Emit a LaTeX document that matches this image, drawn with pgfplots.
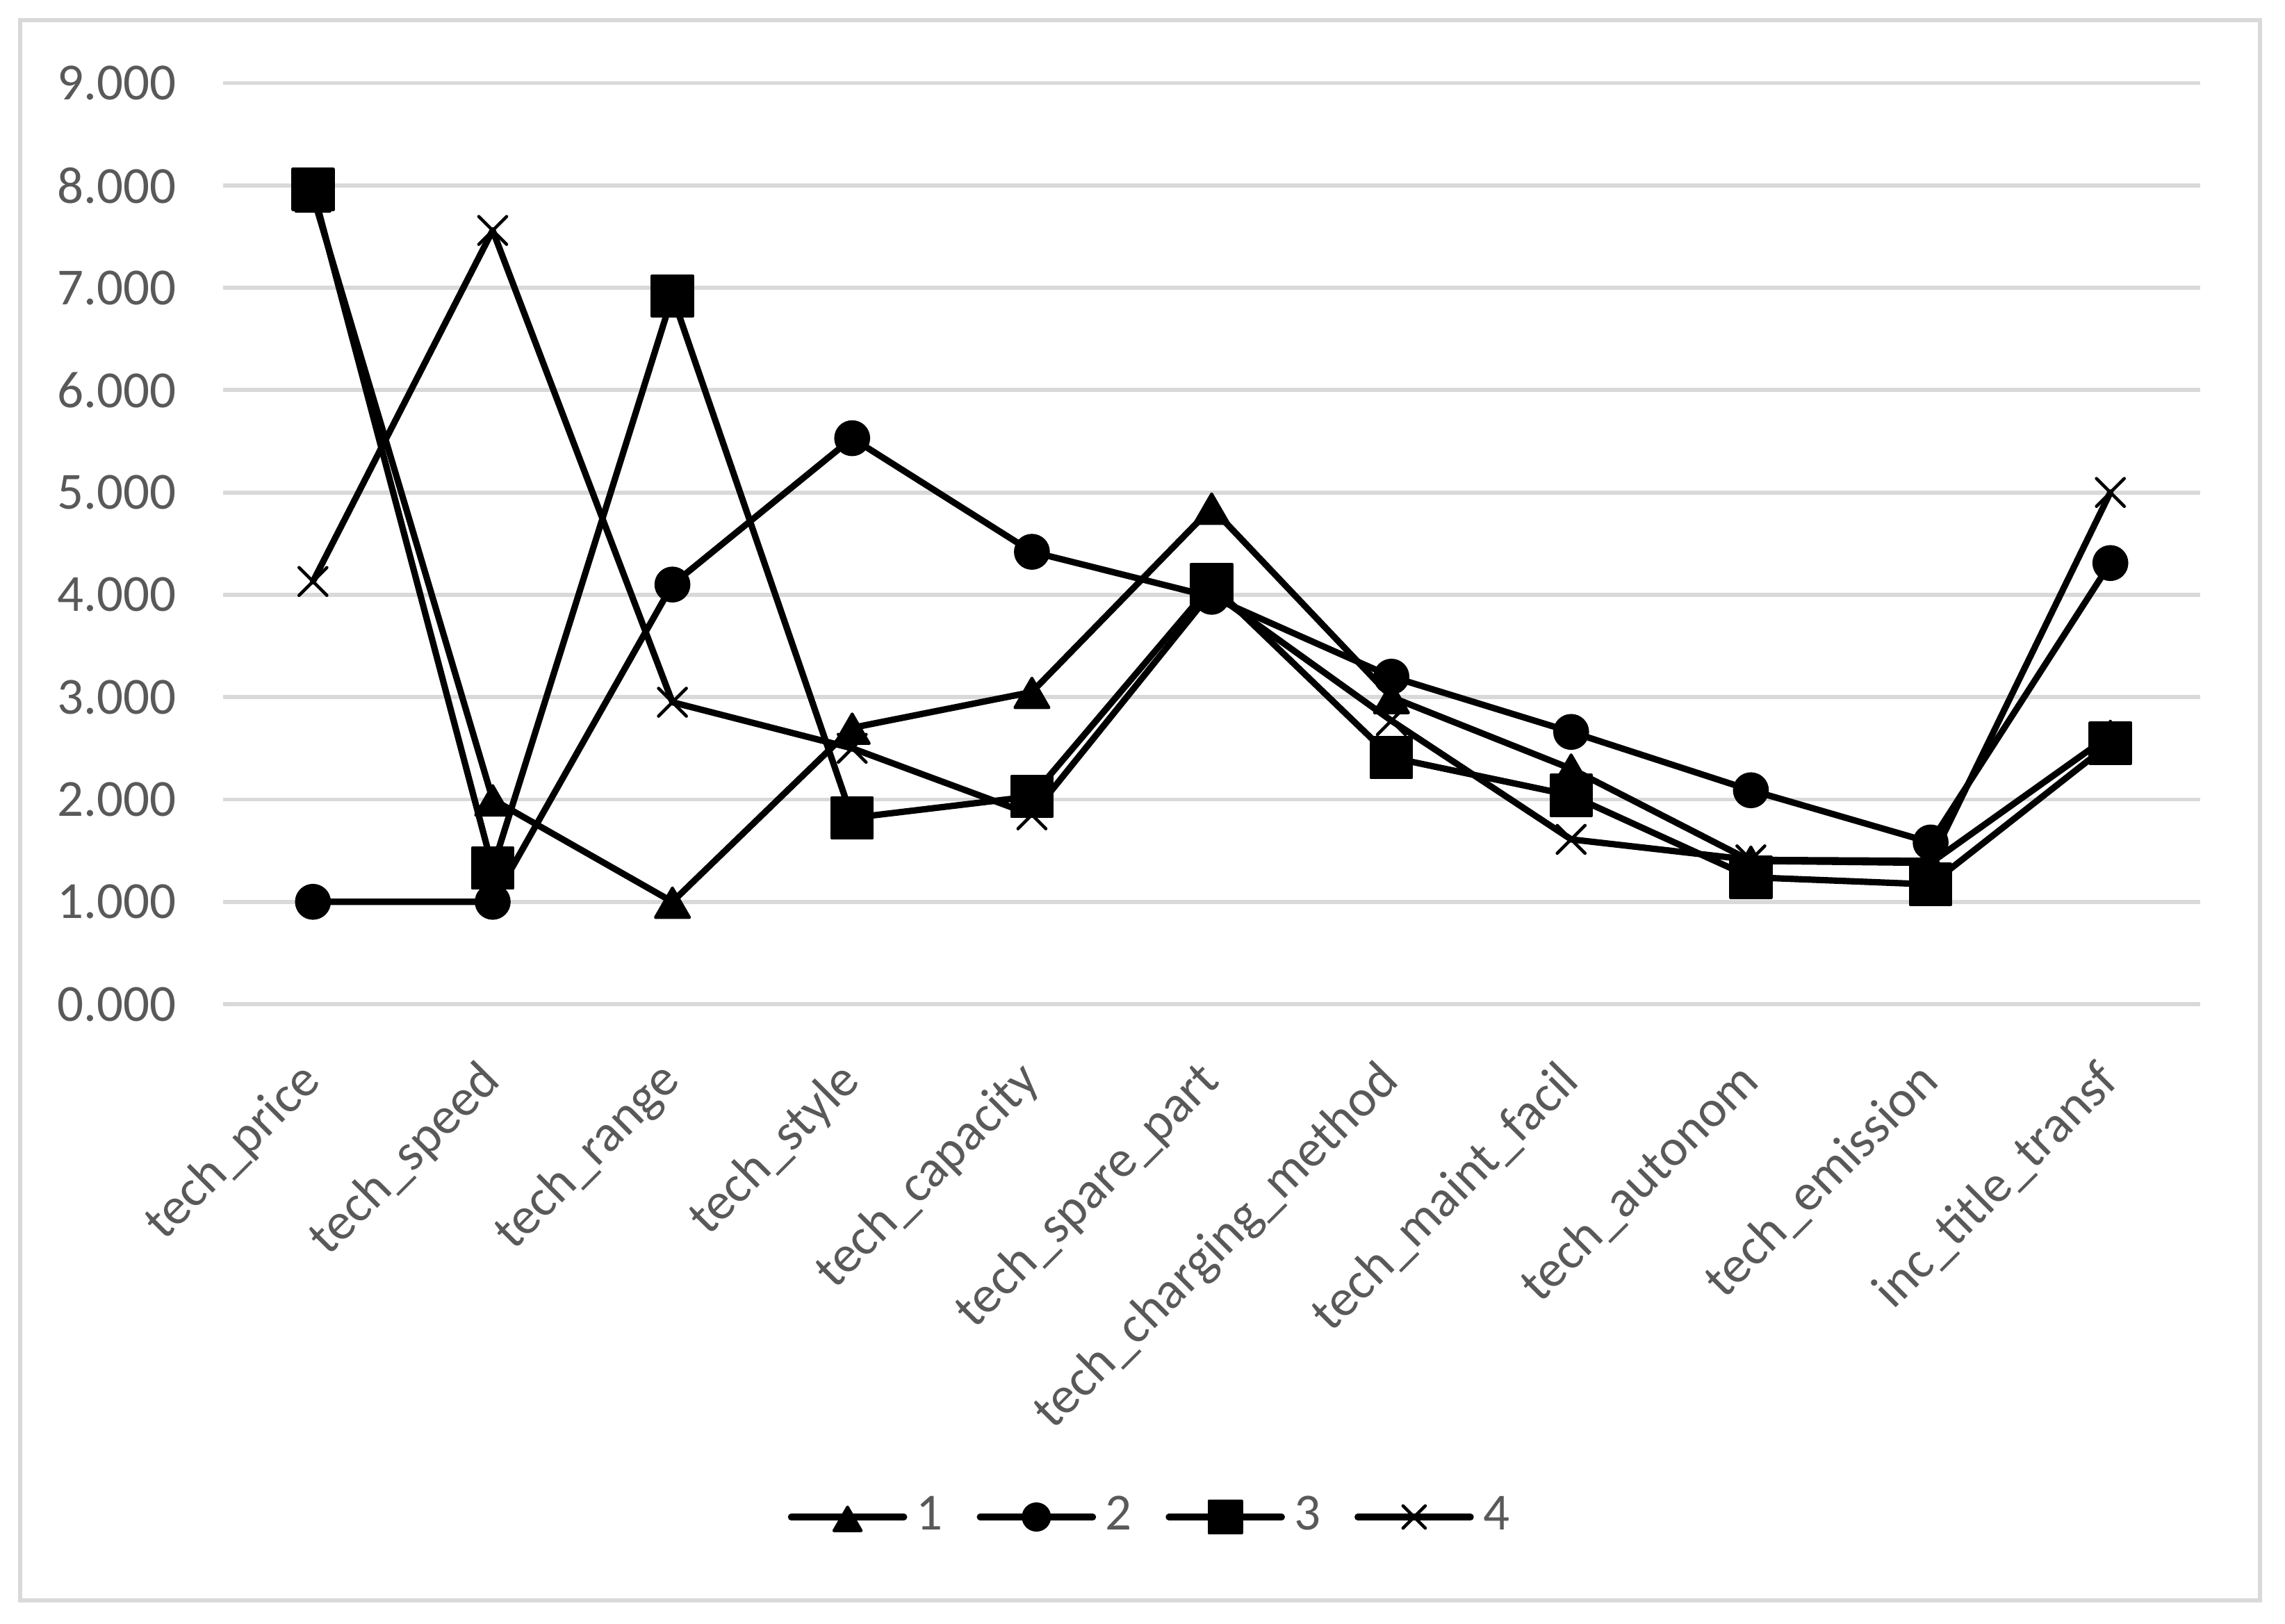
\documentclass[border=0pt]{standalone}
\usepackage{fontspec}
\setmainfont{Carlito}
\usepackage{pgfplots}
\pgfplotsset{compat=1.18}
\definecolor{txt}{RGB}{89,89,89}
\definecolor{gridc}{RGB}{217,217,217}
\begin{document}
\fontsize{18}{21.6}\selectfont
\begin{tikzpicture}
\path[use as bounding box] (0,0) rectangle (789.12pt,560.64pt);
\draw[gridc, line width=1.4pt] (6.96pt,7.9pt) rectangle (780.5pt,553.7pt);
\begin{axis}[
  at={(77.04pt,213.84pt)}, anchor=south west,
  scale only axis, width=682.8pt, height=318.12pt,
  xmin=-0.5, xmax=10.5, ymin=0, ymax=9,
  xtick={0,...,10},
  xticklabels={tech\_price, tech\_speed, tech\_range, tech\_style, tech\_capacity, tech\_spare\_part, tech\_charging\_method, tech\_maint\_facil, tech\_autonom, tech\_emission, inc\_title\_transf},
  ytick={0,...,9},
  yticklabels={0.000,1.000,2.000,3.000,4.000,5.000,6.000,7.000,8.000,9.000},
  ymajorgrids, grid style={gridc, line width=1.4pt},
  axis line style={draw=none},
  major tick length=0pt,
  tick label style={font=\fontsize{18}{21.6}\selectfont, text=txt, inner sep=0pt},
  yticklabel style={xshift=-16pt},
  xticklabel style={rotate=45, anchor=east},
  xticklabel shift=23.8pt,
  legend columns=4,
  legend style={at={(0.4705,-0.5568)}, anchor=center, draw=none, fill=none,
    font=\fontsize{18}{21.6}\selectfont, text=txt,
    nodes={inner sep=3.2pt},
    /tikz/every even column/.append style={column sep=8.5pt}},
  legend image code/.code={\draw[mark repeat=2,mark phase=2,#1,every mark/.append style={scale=0.8}] plot coordinates {(0pt,0pt) (19.5pt,0pt) (39pt,0pt)};},
  every axis plot/.append style={line width=2.2pt, black, line join=round, line cap=round},
]
\addplot[mark=triangle*, mark size=6.8pt, mark options={solid, fill=black, line width=1pt, yshift=-2pt}] coordinates {
(0,7.90) (1,2.00) (2,1.00) (3,2.70) (4,3.05) (5,4.85) (6,3.00) (7,2.30) (8,1.40) (9,1.38) (10,2.63)};
\addlegendentry{1}
\addplot[mark=*, mark size=5.8pt, mark options={solid, fill=black, line width=0.8pt}] coordinates {
(0,1.00) (1,1.00) (2,4.10) (3,5.53) (4,4.42) (5,3.98) (6,3.20) (7,2.66) (8,2.09) (9,1.58) (10,4.31)};
\addlegendentry{2}
\addplot[mark=square*, mark size=7pt, mark options={solid, fill=black, line width=1pt}] coordinates {
(0,7.96) (1,1.33) (2,6.92) (3,1.82) (4,2.03) (5,4.10) (6,2.41) (7,2.04) (8,1.24) (9,1.17) (10,2.55)};
\addlegendentry{3}
\addplot[mark=x, mark size=6.8pt, mark options={solid, line width=1.1pt}] coordinates {
(0,4.13) (1,7.56) (2,2.95) (3,2.50) (4,1.85) (5,4.03) (6,2.77) (7,1.61) (8,1.41) (9,1.40) (10,5.00)};
\addlegendentry{4}
\end{axis}
\end{tikzpicture}
\end{document}
